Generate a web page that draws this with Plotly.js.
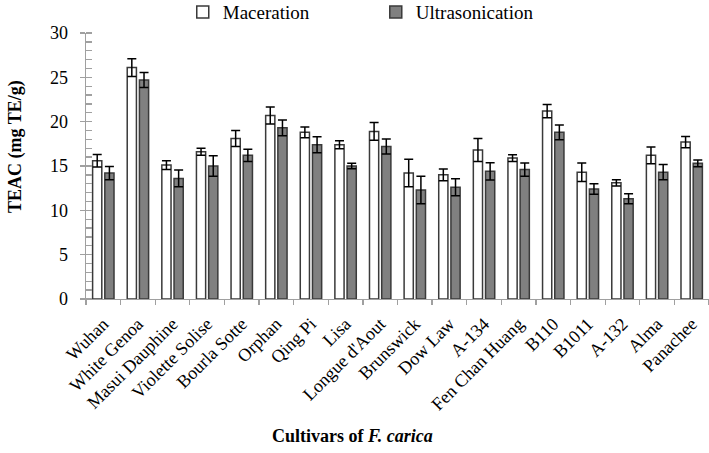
<!DOCTYPE html>
<html>
<head>
<meta charset="utf-8">
<script src="https://cdn.plot.ly/plotly-3.0.1.min.js"></script>
<style>html,body{margin:0;padding:0;background:#fff;}#chart{width:709px;height:453px;}</style>
</head>
<body>
<div id="chart"></div>
<script>
const cultivars = ["Wuhan","White Genoa","Masui Dauphine","Violette Solise","Bourla Sotte","Orphan","Qing Pi","Lisa","Longue d'Aout","Brunswick","Dow Law","A-134","Fen Chan Huang","B110","B1011","A-132","Alma","Panachee"];
const maceration = [15.6, 26.1, 15.1, 16.6, 18.1, 20.7, 18.8, 17.4, 18.9, 14.2, 14.0, 16.8, 15.9, 21.2, 14.3, 13.1, 16.2, 17.7];
const macerationErr = [0.7, 1.0, 0.5, 0.4, 0.9, 0.95, 0.6, 0.45, 1.0, 1.55, 0.65, 1.3, 0.38, 0.75, 1.05, 0.35, 0.94, 0.64];
const ultrasonication = [14.2, 24.7, 13.6, 15.0, 16.2, 19.3, 17.4, 15.0, 17.2, 12.3, 12.6, 14.4, 14.6, 18.8, 12.4, 11.3, 14.3, 15.3];
const ultrasonicationErr = [0.75, 0.85, 0.95, 1.15, 0.7, 0.9, 0.9, 0.3, 0.85, 1.55, 0.95, 0.97, 0.75, 0.83, 0.6, 0.56, 0.86, 0.38];

const FONT = "Liberation Serif";
const errStyle = {type:'data', visible:true, color:'#000', thickness:1.5, width:4.5};

const traces = [
  {type:'bar', name:'Maceration', x:cultivars, y:maceration,
   error_y:Object.assign({array:macerationErr}, errStyle),
   marker:{color:'#ffffff', line:{color:'#3a3a3a', width:1.5}}},
  {type:'bar', name:'Ultrasonication', x:cultivars, y:ultrasonication,
   error_y:Object.assign({array:ultrasonicationErr}, errStyle),
   marker:{color:'#808080', line:{color:'#3a3a3a', width:1.5}}}
];

const layout = {
  width:709, height:453,
  margin:{l:86, r:0, t:33, b:154, autoexpand:false},
  paper_bgcolor:'#fff', plot_bgcolor:'#fff',
  font:{family:FONT, color:'#000', size:18},
  barmode:'group', bargap:0.295, bargroupgap:0.246,
  showlegend:true,
  legend:{orientation:'h', xref:'container', yref:'paper', x:0.53, xanchor:'center', y:1.15, yanchor:'top',
          font:{family:FONT, size:19, color:'#000'}, itemwidth:30, entrywidth:148, entrywidthmode:'pixels',
          bgcolor:'rgba(0,0,0,0)'},
  xaxis:{type:'category', tickangle:-45, tickfont:{family:FONT, size:18, color:'#000'},
         showline:true, linecolor:'#a0a0a0', linewidth:1.3, ticks:'outside', tickson:'boundaries',
         ticklen:5, tickcolor:'#a0a0a0', tickwidth:1.3, showgrid:false, zeroline:false, automargin:false,
         ticklabelstandoff:6},
  yaxis:{range:[0,30], dtick:5, tickfont:{family:FONT, size:18, color:'#000'},
         showline:true, linecolor:'#a0a0a0', linewidth:1.3, ticks:'outside', ticklen:5,
         tickcolor:'#a0a0a0', tickwidth:1.3, showgrid:false, zeroline:false, ticklabelstandoff:8,
         minor:{dtick:1, ticks:'inside', ticklen:6, tickcolor:'#a0a0a0', tickwidth:1.3, showgrid:false},
         automargin:false},
  yaxis2:{overlaying:'y', anchor:'x', side:'left', range:[0,30], dtick:5, ticks:'inside', ticklen:6,
          tickcolor:'#a0a0a0', tickwidth:1.3, showticklabels:false, showline:false, showgrid:false, zeroline:false},
  annotations:[
    {text:'<b>Cultivars of <i>F. carica</i></b>', xref:'paper', yref:'paper',
     x:(352-86)/623, y:(299-436)/266, xanchor:'center', yanchor:'middle', showarrow:false,
     font:{family:FONT, size:18, color:'#000'}},
    {text:'<b>TEAC (mg TE/g)</b>', xref:'paper', yref:'paper', textangle:-90,
     x:(15-86)/623, y:(299-147)/266, xanchor:'center', yanchor:'middle', showarrow:false,
     font:{family:FONT, size:18, color:'#000'}}
  ]
};

Plotly.newPlot('chart', traces, layout, {displayModeBar:false, staticPlot:true});
</script>
</body>
</html>
